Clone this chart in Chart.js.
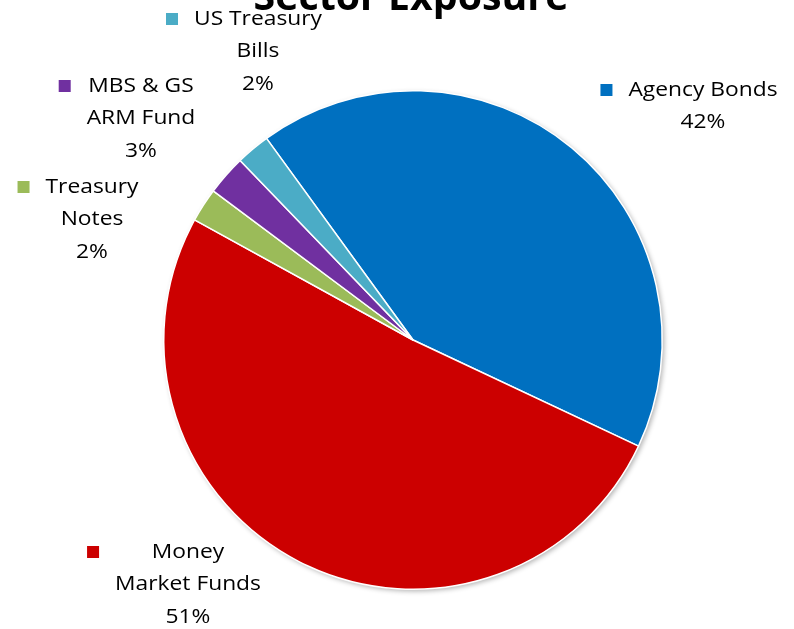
<!DOCTYPE html>
<html><head><meta charset="utf-8">
<script src="https://cdn.jsdelivr.net/npm/chart.js@4"></script>
<style>html,body{margin:0;padding:0;background:#fff;}canvas{display:block}</style>
</head><body>
<canvas id="c" width="794" height="629"></canvas>
<script>
const title = 'Sector Exposure';
const categories = ['Agency Bonds', 'Money Market Funds', 'Treasury Notes', 'MBS & GS ARM Fund', 'US Treasury Bills'];
const nameLines = [['Agency Bonds'], ['Money', 'Market Funds'], ['Treasury', 'Notes'], ['MBS & GS', 'ARM Fund'], ['US Treasury', 'Bills']];
const values = [42.0, 51.0, 2.2, 2.6, 2.2];
const colors = ['#0070C0', '#CC0000', '#9BBB59', '#7030A0', '#4BACC6'];

const total = values.reduce((a, b) => a + b, 0);
const pctLabels = values.map(v => Math.round(v / total * 100) + '%');

// label anchor positions (text centre x, first-line centre y)
const labelPos = [[703, 90], [188, 552], [92, 187], [141, 86], [258, 19]];
const FONT = '"Open Sans", "Liberation Sans", sans-serif';
const SX = 1.14;

const extras = {
  id: 'extras',
  beforeDatasetsDraw(chart) {
    const arc = chart.getDatasetMeta(0).data[0];
    if (!arc) return;
    const ctx = chart.ctx;
    ctx.save();
    ctx.shadowColor = 'rgba(0,0,0,0.3)';
    ctx.shadowBlur = 5;
    ctx.shadowOffsetX = 2;
    ctx.shadowOffsetY = 2;
    ctx.fillStyle = '#fff';
    ctx.beginPath();
    ctx.arc(arc.x, arc.y, arc.outerRadius, 0, Math.PI * 2);
    ctx.fill();
    ctx.restore();
  },
  afterDraw(chart) {
    const ctx = chart.ctx;
    ctx.save();
    // title (cut off at top like reference)
    let fs = 36;
    ctx.font = 'bold ' + fs + 'px ' + FONT;
    const w = ctx.measureText(title).width;
    fs = fs * 315 / w;
    ctx.font = 'bold ' + fs + 'px ' + FONT;
    ctx.fillStyle = '#000';
    ctx.textAlign = 'center';
    ctx.textBaseline = 'alphabetic';
    ctx.fillText(title, 411, 10);

    // data labels
    ctx.font = '20px ' + FONT;
    ctx.textBaseline = 'middle';
    const lh = 32.5;
    categories.forEach((c, i) => {
      const lines = nameLines[i].concat([pctLabels[i]]);
      const [cx, cy] = labelPos[i];
      let maxW = 0;
      lines.forEach(l => { maxW = Math.max(maxW, ctx.measureText(l).width * SX); });
      ctx.fillStyle = '#000';
      lines.forEach((l, k) => {
        ctx.save();
        ctx.translate(cx, cy + k * lh);
        ctx.scale(SX, 1);
        ctx.fillText(l, 0, 0);
        ctx.restore();
      });
      ctx.fillStyle = colors[i];
      ctx.fillRect(cx - maxW / 2 - 28, cy - 6, 12, 12);
    });
    ctx.restore();
  }
};

new Chart(document.getElementById('c'), {
  type: 'pie',
  data: {
    labels: categories,
    datasets: [{
      data: values,
      backgroundColor: colors,
      borderColor: '#ffffff',
      borderWidth: 1.5
    }]
  },
  options: {
    responsive: false,
    animation: false,
    rotation: -36,
    layout: { padding: { left: 163, right: 131, top: 90, bottom: 39 } },
    plugins: {
      legend: { display: false },
      title: { display: false },
      tooltip: { enabled: false }
    }
  },
  plugins: [extras]
});
</script>
</body></html>
